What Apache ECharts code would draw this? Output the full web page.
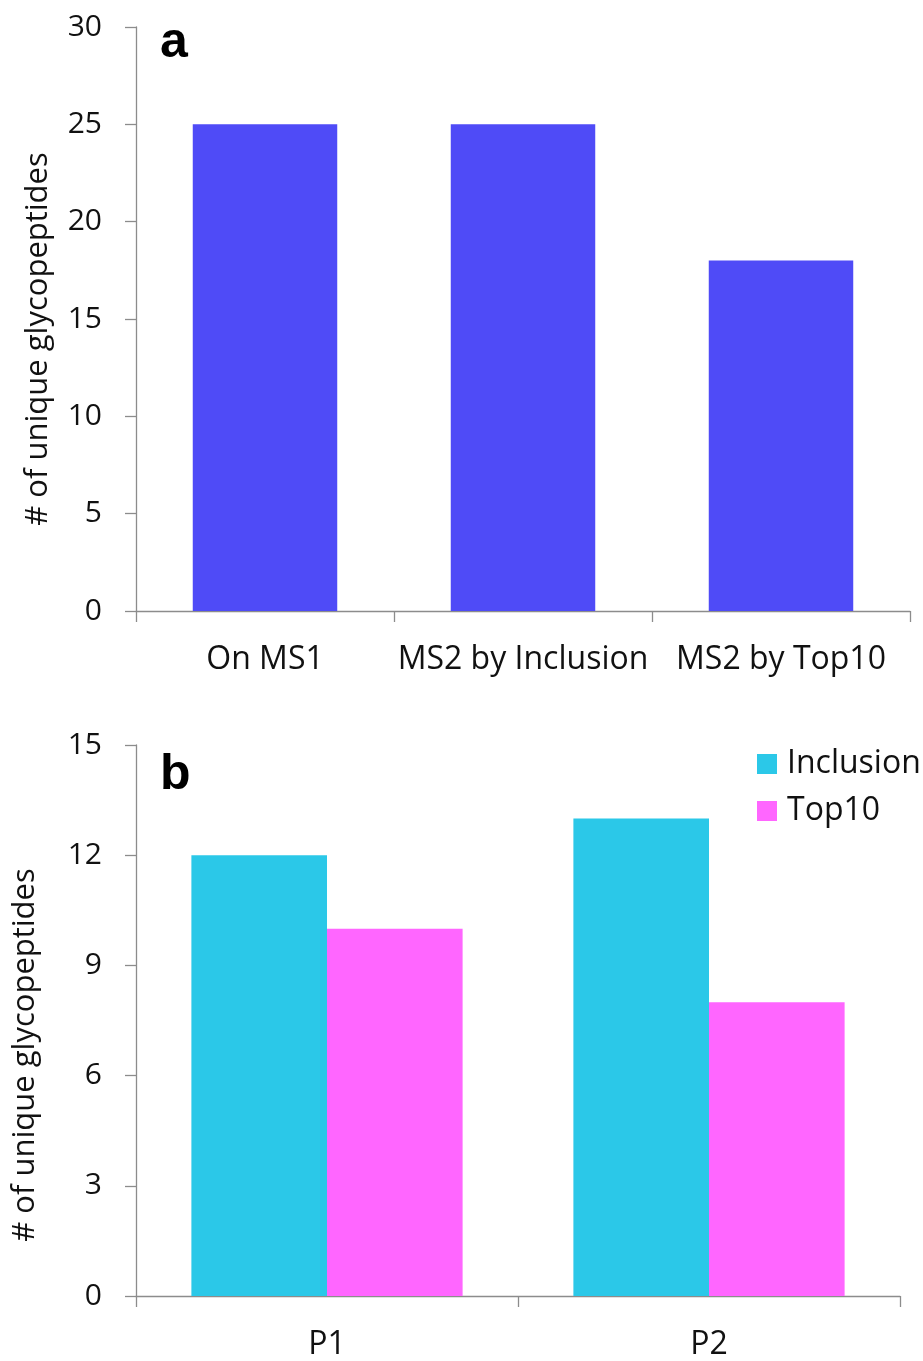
<!DOCTYPE html>
<html><head><meta charset="utf-8">
<script src="https://cdn.jsdelivr.net/npm/echarts@6/dist/echarts.min.js"></script>
<style>html,body{margin:0;padding:0;background:#fff}#c{width:923px;height:1361px}</style>
</head><body><div id="c"></div>
<script>
var catsA = ['On MS1', 'MS2 by Inclusion', 'MS2 by Top10'];
var valsA = [25, 25, 18];
var catsB = ['P1', 'P2'];
var inclusion = [12, 13];
var top10 = [10, 8];
var ticksA = {min: 0, max: 30, interval: 5};
var ticksB = {min: 0, max: 15, interval: 3};

var FONT = '"Open Sans", sans-serif';
var axisCol = '#8c8c8c';
var txt = '#111';

function yAxis(idx, t) {
  return {
    type: 'value', gridIndex: idx, min: t.min, max: t.max, interval: t.interval,
    splitLine: {show: false},
    axisLine: {show: true, lineStyle: {color: axisCol, width: 1.3}},
    axisTick: {show: true, length: 11, lineStyle: {color: axisCol, width: 1.3}},
    axisLabel: {fontFamily: FONT, fontSize: 30, color: txt, margin: 34}
  };
}
function xAxis(idx, cats) {
  return {
    type: 'category', gridIndex: idx, data: cats,
    axisLine: {show: true, lineStyle: {color: axisCol, width: 1.3}},
    axisTick: {show: true, length: 11, lineStyle: {color: axisCol, width: 1.3}},
    axisLabel: {fontFamily: FONT, fontSize: 32, color: txt, margin: 33, interval: 0, hideOverlap: false}
  };
}

var chart = echarts.init(document.getElementById('c'));
chart.setOption({
  animation: false,
  backgroundColor: '#fff',
  grid: [
    {left: 136, top: 27, width: 774, height: 584},
    {left: 136, top: 745, width: 764, height: 555}
  ],
  xAxis: [xAxis(0, catsA), xAxis(1, catsB)],
  yAxis: [yAxis(0, ticksA), yAxis(1, ticksB)],
  legend: {
    data: ['Inclusion', 'Top10'], orient: 'vertical', left: 757, top: 748, padding: 0,
    itemWidth: 20, itemHeight: 20, itemGap: 15, icon: 'rect',
    textStyle: {fontFamily: FONT, fontSize: 32, color: txt, padding: [0, 0, 0, 5]}
  },
  graphic: [
    {type: 'text', left: 160, top: 18, style: {text: 'a', font: 'bold 50px "Liberation Sans", Arial, sans-serif', fill: '#000'}},
    {type: 'text', left: 160, top: 750, style: {text: 'b', font: 'bold 50px "Liberation Sans", Arial, sans-serif', fill: '#000'}},
    {type: 'text', x: 38, y: 339, rotation: Math.PI / 2, style: {text: '# of unique glycopeptides', font: '31px "Open Sans", sans-serif', fill: txt, align: 'center', verticalAlign: 'middle'}},
    {type: 'text', x: 25, y: 1055, rotation: Math.PI / 2, style: {text: '# of unique glycopeptides', font: '31px "Open Sans", sans-serif', fill: txt, align: 'center', verticalAlign: 'middle'}}
  ],
  series: [
    {type: 'bar', xAxisIndex: 0, yAxisIndex: 0, data: valsA, barCategoryGap: '44%', itemStyle: {color: '#4f4bf7'}},
    {name: 'Inclusion', type: 'bar', xAxisIndex: 1, yAxisIndex: 1, data: inclusion, barGap: '0%', barCategoryGap: '29%', itemStyle: {color: '#2bc8e8'}},
    {name: 'Top10', type: 'bar', xAxisIndex: 1, yAxisIndex: 1, data: top10, barGap: '0%', barCategoryGap: '29%', itemStyle: {color: '#ff66ff'}}
  ]
});
</script>
</body></html>
